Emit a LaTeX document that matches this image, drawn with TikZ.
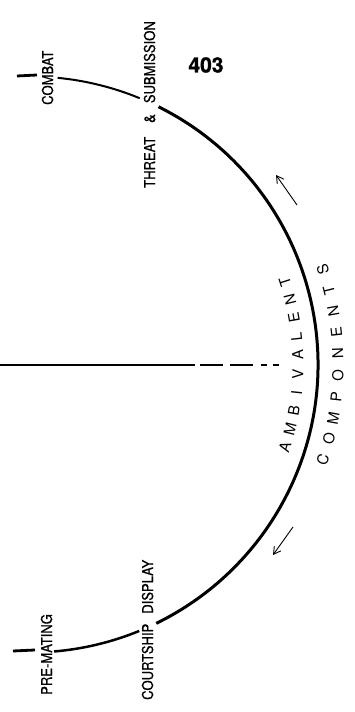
\documentclass[tikz,border=0pt]{standalone}
\usepackage{fontspec}
\setmainfont{TeX Gyre Heros}
\newfontfamily\labelfont[FakeBold=0.8, FakeStretch=0.87]{TeX Gyre Heros}
\newfontfamily\pagefont[FakeBold=1.2]{TeX Gyre Heros}
\usetikzlibrary{arrows.meta}
\begin{document}
\begin{tikzpicture}[x=1pt,y=1pt,
  lbl/.style={font=\labelfont\fontsize{15}{17}\selectfont, inner sep=0pt, rotate=90, anchor=base west},
  arcletter/.style={font=\fontsize{15}{17}\selectfont, inner sep=0pt, anchor=center},
  arcthin/.style={line width=2pt, line cap=butt},
  arcthick/.style={line width=3pt, line cap=butt},
  endtick/.style={line width=2.8pt},
  axisline/.style={line width=1.4pt, dash pattern=on 195pt off 5pt on 23pt off 7pt on 23pt off 8pt on 6pt off 6pt on 6pt},
  pointer/.style={line width=0.9pt, -{Straight Barb[length=7pt,width=8pt]}},
  pagenum/.style={font=\pagefont\fontsize{21}{24}\selectfont\bfseries, inner sep=0pt}]
\useasboundingbox (0,0) rectangle (355,712);

% page number
\node[pagenum] (page) at (206,647) {403};

% the arc and its end ticks
\begin{scope}[shift={(30,347.5)}]
  \coordinate (a1s) at (84.5:288pt);
  \coordinate (a2s) at (63.5:288pt);
  \coordinate (a3s) at (-67.7:288pt);
  \draw[arcthin]  (a1s) arc[start angle=84.5, end angle=67.6, radius=288pt];
  \draw[arcthick] (a2s) arc[start angle=63.5, end angle=-64, radius=288pt];
  \draw[line width=2.5pt, line cap=butt] (a3s) arc[start angle=-67.7, end angle=-85.2, radius=288pt];

  % AMBIVALENT inside the arc
  \foreach \c [count=\i from 0] in {A,M,B,I,V,A,L,E,N,T}
    \node[arcletter, rotate={-18+4*\i+90}] (amb\i) at ({-18+4*\i}:268pt) {\c};
  % COMPONENTS outside the arc
  \foreach \c [count=\i from 0] in {C,O,M,P,O,N,E,N,T,S}
    \node[arcletter, rotate={-18+4*\i+90}] (comp\i) at ({-18+4*\i}:308pt) {\c};
\end{scope}

\coordinate (t1a) at (17,636);
\coordinate (t1b) at (37,637);
\draw[endtick] (t1a) -- (t1b);
\coordinate (t2a) at (13,61);
\coordinate (t2b) at (35,62);
\draw[endtick] (t2a) -- (t2b);

% axis line
\coordinate (h0) at (0,347);
\coordinate (h1) at (279,347);
\draw[axisline] (h0) -- (h1);

% direction arrows
\coordinate (p1s) at (297,507);
\coordinate (p1e) at (276,537);
\draw[pointer] (p1s) -- (p1e);
\coordinate (p2s) at (293,185);
\coordinate (p2e) at (273,157);
\draw[pointer] (p2s) -- (p2e);

% rotated labels
\node[lbl] (combat) at (53,607) {COMBAT};
\node[lbl] (threat) at (155,524) {THREAT\hspace{14pt}\&\hspace{11pt}SUBMISSION};
\node[lbl] (premating) at (52,17) {PRE-MATING};
\node[lbl] (courtship) at (153,12) {COURTSHIP\hspace{10pt}DISPLAY};
\end{tikzpicture}
\end{document}
